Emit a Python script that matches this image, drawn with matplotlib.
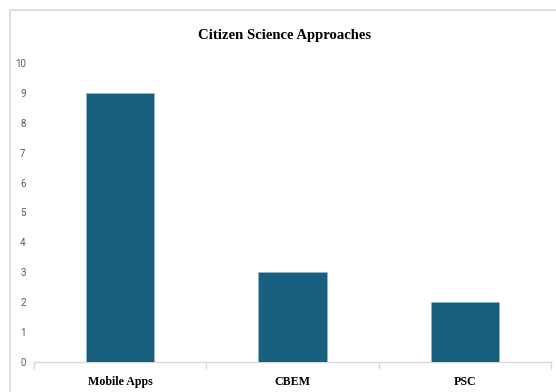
import matplotlib
matplotlib.use("Agg")
import matplotlib.pyplot as plt
from matplotlib.patches import Rectangle
import numpy as np

categories = ["Mobile Apps", "CBEM", "PSC"]
counts = [9, 3, 2]
y_ticks = [0, 1, 2, 3, 4, 5, 6, 7, 8, 9, 10]

W, H = 556, 392
fig = plt.figure(figsize=(W / 100, H / 100), dpi=100)
fig.patch.set_facecolor("white")

# outer chart frame
fig.add_artist(Rectangle((10 / W, -0.05), 1.2, (H - 10) / H + 0.05,
                         transform=fig.transFigure, fill=False,
                         edgecolor="#d9d9d9", linewidth=1.2))

ax = fig.add_axes([34 / W, (H - 362) / H, (551 - 34) / W, (362 - 63) / H])
x = np.arange(len(categories))
ax.bar(x, counts, width=0.395, color="#175e7f", edgecolor="#8fb8cc",
       linewidth=0.6, zorder=3)

ax.set_xlim(-0.5, len(categories) - 0.5)
ax.set_ylim(0, 10)
ax.set_yticks(y_ticks)
ax.set_yticklabels([str(v) for v in y_ticks],
                   family=["Roboto", "DejaVu Sans"],
                   fontsize=7, color="#595959")
ax.tick_params(axis="y", length=0, pad=6)

ax.set_xticks(x)
ax.set_xticklabels(categories, family="Liberation Serif", fontweight="bold",
                   fontsize=8.6, color="black")
ax.set_xticks(np.arange(len(categories) + 1) - 0.5, minor=True)
ax.tick_params(axis="x", which="major", length=0, pad=10)
ax.tick_params(axis="x", which="minor", length=5, color="#d9d9d9", width=1)

for side in ["top", "right", "left"]:
    ax.spines[side].set_visible(False)
ax.spines["bottom"].set_color("#d9d9d9")
ax.spines["bottom"].set_linewidth(1)

fig.text(285 / W, 1 - 35 / H, "Citizen Science Approaches",
         family="Liberation Serif", fontweight="bold", fontsize=10.6,
         ha="center", va="center", color="black")

fig.savefig("out.png", dpi=100)
